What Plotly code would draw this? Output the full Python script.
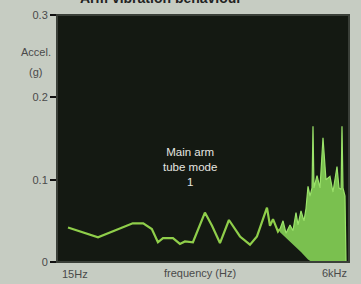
import plotly.graph_objects as go

# Low/mid-frequency response line (frequency in Hz, acceleration in g)
line_freq = [18.8, 34.8, 71, 88, 105, 119, 132, 162, 187, 207, 244, 312, 361,
             425, 511, 641, 787, 908, 1115, 1186, 1262, 1397, 1457]
line_accel = [0.042, 0.030, 0.047, 0.047, 0.040, 0.024, 0.029, 0.029, 0.022,
              0.025, 0.024, 0.060, 0.044, 0.023, 0.051, 0.031, 0.021, 0.031,
              0.066, 0.044, 0.052, 0.037, 0.040]

# Dense high-frequency spectrum (upper envelope)
hf_freq = [1457, 1550, 1647, 1788, 1902, 2022, 2108, 2241, 2383, 2483, 2588,
           2696, 2810, 2866, 2925, 2987, 3113, 3310, 3519, 3742, 4062, 4320,
           4690, 4887, 5100, 5197, 5304, 5527, 5641]
hf_accel = [0.040, 0.050, 0.035, 0.045, 0.038, 0.060, 0.045, 0.062, 0.050,
            0.065, 0.092, 0.080, 0.090, 0.165, 0.090, 0.095, 0.105, 0.090,
            0.151, 0.100, 0.104, 0.085, 0.116, 0.090, 0.088, 0.165, 0.090,
            0.080, 0.0]

# Lower edge of the high-frequency band
hf_low_freq = [1457, 1788, 2241, 2588, 2800, 5641]
hf_low_accel = [0.036, 0.025, 0.012, 0.003, 0.0, 0.0]

y_ticks = [0, 0.1, 0.2, 0.3]
y_ticktext = ["0", "0.1", "0.2", "0.3"]

fig = go.Figure()
fig.add_trace(go.Scatter(x=hf_low_freq, y=hf_low_accel, mode="lines",
                         line=dict(color="rgba(0,0,0,0)", width=0),
                         hoverinfo="skip", showlegend=False))
fig.add_trace(go.Scatter(x=hf_freq, y=hf_accel, mode="lines", fill="tonexty",
                         fillcolor="rgba(140,222,90,0.85)",
                         line=dict(color="#9be36a", width=1.2),
                         showlegend=False))
fig.add_trace(go.Scatter(x=line_freq, y=line_accel, mode="lines",
                         line=dict(color="#8fce4a", width=2.2),
                         showlegend=False))

fig.update_layout(
    width=361, height=284,
    margin=dict(l=57, r=12, t=15, b=22),
    paper_bgcolor="#c6ccc2",
    plot_bgcolor="#141912",
    font=dict(family="Liberation Sans, Arial, sans-serif", size=11, color="#4a4a4a"),
    xaxis=dict(type="log", range=[1.1761, 3.7782], showgrid=False,
               zeroline=False, showticklabels=False, ticks="",
               showline=False),
    yaxis=dict(range=[0, 0.3], tickvals=y_ticks, ticktext=y_ticktext,
               ticks="outside", ticklen=6, tickwidth=2, tickcolor="#111",
               showgrid=False, zeroline=False, showline=False, automargin=False,
               tickfont=dict(size=11, color="#4a4a4a")),
    shapes=[dict(type="rect", xref="paper", yref="paper", x0=0, x1=1, y0=0, y1=1,
                 line=dict(color="#3a3f38", width=2))],
    annotations=[
        dict(text="<b>Arm vibration behaviour</b>", xref="paper", yref="paper",
             x=0.356, y=1.07, xanchor="center", yanchor="middle",
             showarrow=False, font=dict(size=14, color="#222")),
        dict(text="Accel.", xref="paper", yref="paper", x=-0.072, y=0.85,
             xanchor="center", yanchor="middle", showarrow=False,
             font=dict(size=11, color="#4a4a4a")),
        dict(text="(g)", xref="paper", yref="paper", x=-0.072, y=0.77,
             xanchor="center", yanchor="middle", showarrow=False,
             font=dict(size=11, color="#4a4a4a")),
        dict(text="Main arm<br>tube mode<br>1", xref="paper", yref="paper",
             x=0.455, y=0.385, xanchor="center", yanchor="middle",
             showarrow=False, font=dict(size=11.5, color="#e6e6e0")),
        dict(text="15Hz", xref="paper", yref="paper", x=0.01, y=-0.05,
             xanchor="left", yanchor="middle", showarrow=False,
             font=dict(size=11, color="#4a4a4a")),
        dict(text="frequency (Hz)", xref="paper", yref="paper", x=0.49, y=-0.045,
             xanchor="center", yanchor="middle", showarrow=False,
             font=dict(size=11, color="#4a4a4a")),
        dict(text="6kHz", xref="paper", yref="paper", x=1.0, y=-0.045,
             xanchor="right", yanchor="middle", showarrow=False,
             font=dict(size=11, color="#4a4a4a")),
    ],
)

fig.write_html("out.html", config={"displayModeBar": False},
               post_script="document.body.style.margin='0';document.body.style.overflow='hidden';")
